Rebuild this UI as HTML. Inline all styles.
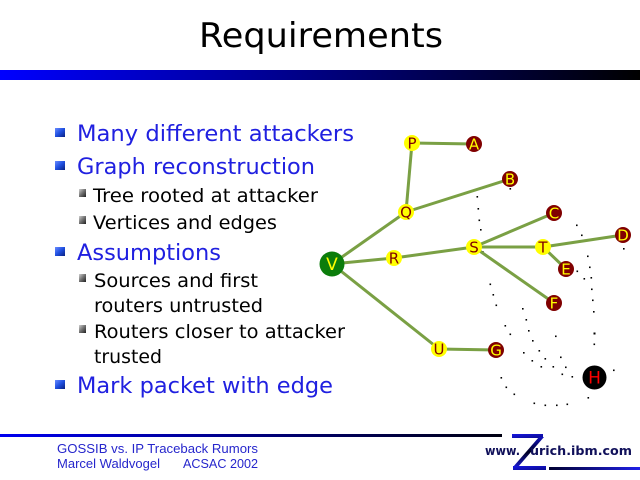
<!DOCTYPE html>
<html><head><meta charset="utf-8"><style>
html,body{margin:0;padding:0;background:#fff;}
svg{display:block;}
</style></head><body>
<svg width="640" height="480" viewBox="0 0 640 480" xmlns="http://www.w3.org/2000/svg">
<defs>
<linearGradient id="topbar" x1="0" y1="0" x2="1" y2="0">
<stop offset="0" stop-color="#0000ff"/><stop offset="1" stop-color="#000000"/></linearGradient>
<linearGradient id="footline" x1="0" y1="0" x2="1" y2="0">
<stop offset="0" stop-color="#0000f0"/><stop offset="1" stop-color="#000010"/></linearGradient>
<linearGradient id="rline" x1="0" y1="0" x2="1" y2="0">
<stop offset="0" stop-color="#000030"/><stop offset="1" stop-color="#2020e8"/></linearGradient>
<linearGradient id="zg" x1="0" y1="0" x2="1" y2="1">
<stop offset="0" stop-color="#1818e0"/><stop offset="1" stop-color="#0a0a90"/></linearGradient>
<linearGradient id="zd" x1="0" y1="0" x2="0" y2="1">
<stop offset="0" stop-color="#1010c0"/><stop offset="0.5" stop-color="#000020"/><stop offset="1" stop-color="#1818d0"/></linearGradient>
<linearGradient id="bb" x1="0" y1="0" x2="1" y2="1">
<stop offset="0" stop-color="#6a8cff"/><stop offset="0.5" stop-color="#1f4fe0"/><stop offset="1" stop-color="#0a2080"/></linearGradient>
<linearGradient id="sb" x1="0" y1="0" x2="1" y2="1">
<stop offset="0" stop-color="#d0d0d0"/><stop offset="0.5" stop-color="#707070"/><stop offset="1" stop-color="#202020"/></linearGradient>
</defs>
<rect width="640" height="480" fill="#fff"/>
<!-- title -->
<text x="199" y="47" font-family="DejaVu Sans, Verdana, sans-serif" font-size="34" fill="#000" textLength="244" lengthAdjust="spacingAndGlyphs">Requirements</text>
<rect x="0" y="70" width="640" height="10" fill="url(#topbar)"/>

<!-- bullets -->
<g font-family="DejaVu Sans, Verdana, sans-serif">
<rect x="55" y="128" width="10" height="9" fill="url(#bb)"/>
<text x="77" y="141" font-size="22" fill="#2020e0" textLength="277" lengthAdjust="spacingAndGlyphs">Many different attackers</text>
<rect x="55" y="161" width="10" height="9" fill="url(#bb)"/>
<text x="77" y="174" font-size="22" fill="#2020e0" textLength="238" lengthAdjust="spacingAndGlyphs">Graph reconstruction</text>
<rect x="79" y="189" width="7" height="8" fill="url(#sb)"/>
<text x="93" y="202" font-size="19" fill="#000" textLength="225" lengthAdjust="spacingAndGlyphs">Tree rooted at attacker</text>
<rect x="79" y="216" width="7" height="8" fill="url(#sb)"/>
<text x="93" y="229" font-size="19" fill="#000" textLength="184" lengthAdjust="spacingAndGlyphs">Vertices and edges</text>
<rect x="55" y="247" width="10" height="9" fill="url(#bb)"/>
<text x="77" y="260" font-size="22" fill="#2020e0" textLength="144" lengthAdjust="spacingAndGlyphs">Assumptions</text>
<rect x="79" y="274" width="7" height="8" fill="url(#sb)"/>
<text x="94" y="287" font-size="19" fill="#000" textLength="164" lengthAdjust="spacingAndGlyphs">Sources and first</text>
<text x="94" y="312" font-size="19" fill="#000" textLength="169" lengthAdjust="spacingAndGlyphs">routers untrusted</text>
<rect x="79" y="325" width="7" height="8" fill="url(#sb)"/>
<text x="94" y="338" font-size="19" fill="#000" textLength="251" lengthAdjust="spacingAndGlyphs">Routers closer to attacker</text>
<text x="94" y="363" font-size="19" fill="#000" textLength="68" lengthAdjust="spacingAndGlyphs">trusted</text>
<rect x="55" y="380" width="10" height="9" fill="url(#bb)"/>
<text x="77" y="393" font-size="22" fill="#2020e0" textLength="256" lengthAdjust="spacingAndGlyphs">Mark packet with edge</text>
</g>

<!-- dots -->
<g fill="#000">
<rect x="476.5" y="196" width="1.6" height="1.6"/><rect x="477.5" y="208" width="1.6" height="1.6"/>
<rect x="478.5" y="219.5" width="1.6" height="1.6"/><rect x="480" y="229" width="1.6" height="1.6"/>
<rect x="482" y="251" width="1.6" height="1.6"/><rect x="509.5" y="188" width="1.6" height="1.6"/>
<rect x="576" y="224.5" width="1.6" height="1.6"/><rect x="581" y="234.5" width="1.6" height="1.6"/>
<rect x="587" y="255.5" width="1.6" height="1.6"/><rect x="589" y="266.5" width="1.6" height="1.6"/>
<rect x="576.5" y="270.5" width="1.6" height="1.6"/><rect x="583.5" y="278" width="1.6" height="1.6"/>
<rect x="590.5" y="277" width="1.6" height="1.6"/><rect x="591" y="288.5" width="1.6" height="1.6"/>
<rect x="592" y="299.5" width="1.6" height="1.6"/><rect x="593" y="311" width="1.6" height="1.6"/>
<rect x="593.5" y="332.5" width="2" height="2"/><rect x="593.5" y="343.5" width="1.6" height="1.6"/>
<rect x="623" y="248" width="1.6" height="1.6"/>
<rect x="489.5" y="283.5" width="1.6" height="1.6"/><rect x="492.5" y="294" width="1.6" height="1.6"/>
<rect x="495.5" y="304.5" width="1.6" height="1.6"/><rect x="504.5" y="325" width="1.6" height="1.6"/>
<rect x="509.5" y="333.5" width="1.6" height="1.6"/><rect x="522" y="308" width="1.6" height="1.6"/>
<rect x="525.5" y="319" width="1.6" height="1.6"/><rect x="528" y="330" width="1.6" height="1.6"/>
<rect x="532" y="340" width="1.6" height="1.6"/><rect x="538.5" y="350" width="1.6" height="1.6"/>
<rect x="544.5" y="358" width="1.6" height="1.6"/><rect x="555" y="335.5" width="1.6" height="1.6"/>
<rect x="523" y="352" width="1.6" height="1.6"/><rect x="531.5" y="360" width="1.6" height="1.6"/>
<rect x="540.5" y="366" width="1.6" height="1.6"/><rect x="560" y="356.5" width="1.6" height="1.6"/>
<rect x="552.5" y="366" width="1.6" height="1.6"/><rect x="561.5" y="373.5" width="1.6" height="1.6"/>
<rect x="571.5" y="376" width="1.6" height="1.6"/><rect x="565" y="366.5" width="1.6" height="1.6"/>
<rect x="500.5" y="377" width="1.6" height="1.6"/><rect x="505.5" y="386.5" width="1.6" height="1.6"/>
<rect x="513.5" y="393.5" width="1.6" height="1.6"/><rect x="533.5" y="402.5" width="1.6" height="1.6"/>
<rect x="544.5" y="404.5" width="1.6" height="1.6"/><rect x="556" y="404.5" width="1.6" height="1.6"/>
<rect x="566.5" y="403.5" width="1.6" height="1.6"/><rect x="587.5" y="397" width="1.6" height="1.6"/>
<rect x="613" y="369.5" width="1.6" height="1.6"/>
</g>

<!-- edges -->
<g stroke="#7aa044" stroke-width="3" stroke-linecap="round">
<line x1="412" y1="143" x2="474" y2="144"/>
<line x1="412" y1="143" x2="406" y2="212"/>
<line x1="406" y1="212" x2="510" y2="179"/>
<line x1="332" y1="264" x2="406" y2="212"/>
<line x1="332" y1="264" x2="394" y2="258"/>
<line x1="394" y1="258" x2="474" y2="247"/>
<line x1="474" y1="247" x2="554" y2="213"/>
<line x1="474" y1="247" x2="543" y2="247"/>
<line x1="543" y1="247" x2="623" y2="235"/>
<line x1="543" y1="247" x2="566" y2="269"/>
<line x1="474" y1="247" x2="554" y2="303"/>
<line x1="332" y1="264" x2="439" y2="349"/>
<line x1="439" y1="349" x2="496" y2="350"/>
</g>

<!-- nodes -->
<g font-family="DejaVu Sans, Verdana, sans-serif" font-size="15" text-anchor="middle">
<circle cx="412" cy="143" r="8" fill="#ffff00"/><text x="412" y="148.5" fill="#800000">P</text>
<circle cx="474" cy="144" r="8" fill="#800000"/><text x="474" y="149.5" fill="#ffff00">A</text>
<circle cx="510" cy="179" r="8" fill="#800000"/><text x="510" y="184.5" fill="#ffff00">B</text>
<circle cx="406" cy="212" r="8" fill="#ffff00"/><text x="406" y="217.5" fill="#800000">Q</text>
<circle cx="554" cy="213" r="8" fill="#800000"/><text x="554" y="218.5" fill="#ffff00">C</text>
<circle cx="623" cy="235" r="8" fill="#800000"/><text x="623" y="240.5" fill="#ffff00">D</text>
<circle cx="474" cy="247" r="8" fill="#ffff00"/><text x="474" y="252.5" fill="#800000">S</text>
<circle cx="543" cy="247" r="8" fill="#ffff00"/><text x="543" y="252.5" fill="#800000">T</text>
<circle cx="566" cy="269" r="8" fill="#800000"/><text x="566" y="274.5" fill="#ffff00">E</text>
<circle cx="394" cy="258" r="8" fill="#ffff00"/><text x="394" y="263.5" fill="#800000">R</text>
<circle cx="554" cy="303" r="8" fill="#800000"/><text x="554" y="308.5" fill="#ffff00">F</text>
<circle cx="439" cy="349" r="8" fill="#ffff00"/><text x="439" y="354.5" fill="#800000">U</text>
<circle cx="496" cy="350" r="8" fill="#800000"/><text x="496" y="355.5" fill="#ffff00">G</text>
<circle cx="332" cy="264" r="12.5" fill="#0b7d0b"/><text x="332" y="270" font-size="17" fill="#ffff00">V</text>
<circle cx="594.5" cy="377.5" r="12" fill="#000"/><text x="594.5" y="383.5" font-size="17" fill="#ff0000">H</text>
</g>

<!-- footer -->
<rect x="0" y="434" width="502" height="3" fill="url(#footline)"/>
<g font-family="Liberation Sans, Arial, sans-serif" font-size="12.5" fill="#2626cc">
<text x="57" y="453" textLength="201" lengthAdjust="spacingAndGlyphs">GOSSIB vs. IP Traceback Rumors</text>
<text x="57" y="468" textLength="103" lengthAdjust="spacingAndGlyphs">Marcel Waldvogel</text>
<text x="183" y="468" textLength="75" lengthAdjust="spacingAndGlyphs">ACSAC 2002</text>
</g>
<!-- logo -->
<rect x="512" y="434" width="31" height="4" fill="url(#zg)"/>
<polygon points="539,437 544,437 518,467 513,467" fill="url(#zd)"/>
<rect x="513" y="466" width="33" height="4" fill="url(#zg)"/>
<rect x="549" y="467" width="91" height="3" fill="url(#rline)"/>
<g font-family="DejaVu Sans, Verdana, sans-serif" font-size="12.5" font-weight="bold" fill="#10105a">
<text x="485" y="455" textLength="35" lengthAdjust="spacingAndGlyphs">www.</text>
<text x="530" y="455" textLength="102" lengthAdjust="spacingAndGlyphs">urich.ibm.com</text>
</g>
</svg>
</body></html>
